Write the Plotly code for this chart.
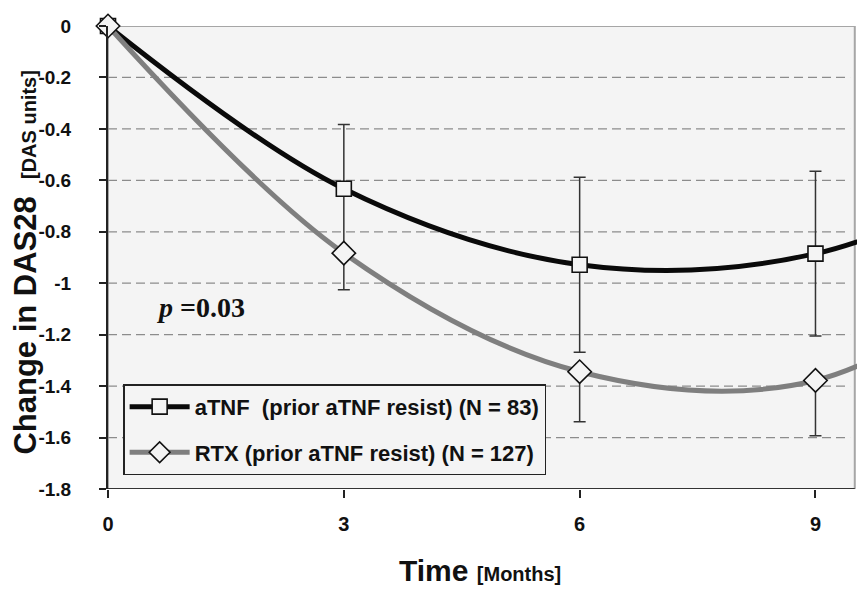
import plotly.graph_objects as go

# ---- data ----
months = [0, 3, 6, 9, 12]          # 12-month point lies beyond the visible range (estimated)
atnf_change = [0, -0.633, -0.928, -0.885, -0.50]
atnf_err = [0, 0.25, 0.34, 0.32, 0]
rtx_change = [0, -0.883, -1.344, -1.378, -0.86]
rtx_err_minus = [0, 0.142, 0.195, 0.215, 0]
rtx_err_plus = [0, 0, 0, 0, 0]

x_ticks = [0, 3, 6, 9]
y_ticks = [0, -0.2, -0.4, -0.6, -0.8, -1.0, -1.2, -1.4, -1.6, -1.8]
y_ticktext = ["0", "-0.2", "-0.4", "-0.6", "-0.8", "-1", "-1.2", "-1.4", "-1.6", "-1.8"]
grid_vals = [-0.2, -0.4, -0.6, -0.8, -1.0, -1.2, -1.4, -1.6]

name_atnf = "aTNF  (prior aTNF resist) (N = 83)"
name_rtx = "RTX (prior aTNF resist) (N = 127)"

X_FRAME = 9.5      # right edge of the plot frame
X_MAX = 9.63       # visible data extent (image edge)
BG = "#f4f4f4"
SANS = "Liberation Sans, Arial, sans-serif"

fig = go.Figure()

fig.add_trace(go.Scatter(
    x=months, y=atnf_change, name=name_atnf, mode="lines+markers",
    line=dict(color="#0a0a0a", width=5, shape="spline", smoothing=1),
    marker=dict(symbol="square", size=15, color=BG, line=dict(color="#111", width=1.6)),
    error_y=dict(type="data", array=atnf_err, symmetric=True, color="#333",
                 thickness=1.5, width=6),
    cliponaxis=False, legendgroup="a",
))
fig.add_trace(go.Scatter(
    x=months, y=rtx_change, name=name_rtx, mode="lines+markers",
    line=dict(color="#7f7f7f", width=5, shape="spline", smoothing=1),
    marker=dict(symbol="diamond", size=18, color=BG, line=dict(color="#111", width=1.6)),
    error_y=dict(type="data", array=rtx_err_plus, arrayminus=rtx_err_minus,
                 symmetric=False, color="#333", thickness=1.5, width=6),
    cliponaxis=False, legendgroup="b",
))

shapes = [dict(type="rect", xref="x", yref="y", x0=0, x1=X_FRAME, y0=y_ticks[-1], y1=y_ticks[0],
               fillcolor=BG, line=dict(color="#a6a6a6", width=2), layer="below")]
for g in grid_vals:
    shapes.append(dict(type="line", xref="x", yref="y", x0=0, x1=X_FRAME - 0.06, y0=g, y1=g,
                       line=dict(color="#8c8c8c", width=1.2, dash="9px,5px"), layer="below"))
shapes.append(dict(type="line", xref="x", yref="y", x0=0, x1=X_FRAME, y0=y_ticks[-1], y1=y_ticks[-1],
                   line=dict(color="#333", width=2), layer="below"))

fig.update_layout(
    width=865, height=593, autosize=False,
    margin=dict(l=100, r=8, t=12, b=112),
    paper_bgcolor="white", plot_bgcolor="white",
    shapes=shapes,
    showlegend=True,
    legend=dict(x=0.02, y=0.226, xanchor="left", yanchor="top",
                bgcolor=BG, bordercolor="#222", borderwidth=1.5,
                font=dict(family=SANS, size=22, color="#111", weight="bold"),
                itemwidth=60, tracegroupgap=14, traceorder="grouped"),
    xaxis=dict(range=[0, X_MAX], tickvals=x_ticks, ticktext=[str(v) for v in x_ticks],
               showline=False, showgrid=False, zeroline=False,
               ticks="outside", ticklen=8, tickwidth=1.5, tickcolor="#222",
               tickfont=dict(family=SANS, size=20, color="#111", weight="bold"),
               ticklabelstandoff=9),
    yaxis=dict(range=[y_ticks[-1], y_ticks[0]], tickvals=y_ticks, ticktext=y_ticktext,
               showline=True, linecolor="#222", linewidth=2, showgrid=False, zeroline=False,
               ticks="outside", ticklen=7, tickwidth=1.5, tickcolor="#222",
               tickfont=dict(family=SANS, size=19, color="#111", weight="bold"),
               ticklabelstandoff=24),
    annotations=[
        dict(text="Change in DAS28  <span style='font-size:20px'>[DAS units]</span>",
             xref="paper", yref="paper", x=-0.109, y=0.49, xanchor="center", yanchor="middle",
             textangle=-90, showarrow=False,
             font=dict(family=SANS, size=31, color="#111", weight="bold")),
        dict(text="Time <span style='font-size:20px'>[Months]</span>",
             xref="paper", yref="paper", x=0.492, y=-0.177, xanchor="center", yanchor="middle",
             showarrow=False,
             font=dict(family=SANS, size=30, color="#111", weight="bold")),
        dict(text="<b><i>p</i> =0.03</b>", xref="x", yref="y", x=0.6, y=-1.095,
             xanchor="left", yanchor="middle", showarrow=False,
             font=dict(family="Liberation Serif, Times New Roman, serif", size=28, color="#111")),
    ],
)

fig.write_html("out.html")
